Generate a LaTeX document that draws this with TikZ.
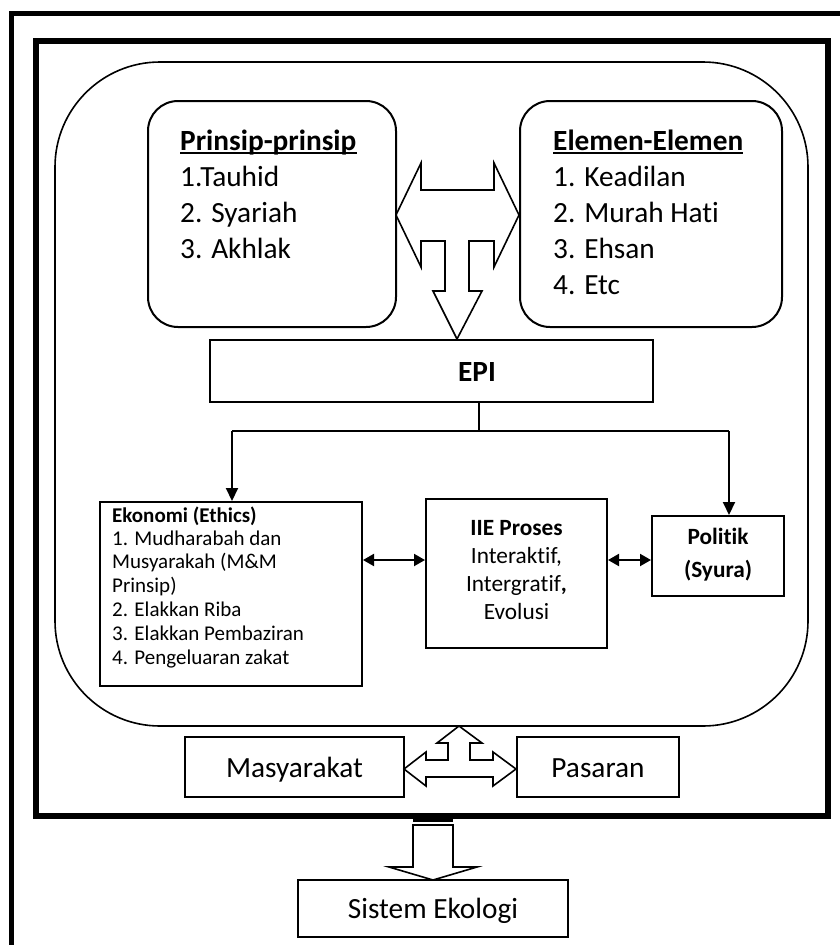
\documentclass[tikz,border=0pt]{standalone}
\usepackage{fontspec}
\setmainfont{Carlito}[Ligatures={NoCommon,NoContextual}]
\usetikzlibrary{arrows.meta}
\newcommand{\nl}{\kern0pt }
\begin{document}
\begin{tikzpicture}[x=1pt,y=-1pt,
  box/.style={draw,line width=2pt,inner sep=0pt},
  rbox/.style={box,rounded corners=30pt},
  big/.style={font=\fontsize{29.3}{36}\selectfont},
  mid/.style={font=\fontsize{23.3}{28}\selectfont},
  small/.style={font=\fontsize{21}{25}\selectfont},
  txt/.style={inner sep=0pt,anchor=base west},
  ctxt/.style={inner sep=0pt,anchor=base},
  fat/.style={draw,line width=1.6pt,fill=white,line join=miter},
  conn/.style={line width=2pt},
  tipd/.style={-{Triangle[length=13pt,width=12pt]}},
  dtip/.style={{Triangle[length=11pt,width=12pt]}-{Triangle[length=11pt,width=12pt]}}
]
\useasboundingbox (0,0) rectangle (840,945);
\fill[white] (0,0) rectangle (840,945);
\begin{scope}
  \clip (0,0) rectangle (840,945);
  \draw[line width=5.5pt] (11.5,13.5) rectangle (880,990);
\end{scope}
% inner thick frame
\draw[line width=6pt] (36,40.5) rectangle (827.5,815.5);
% big rounded region
\draw[line width=1.6pt, rounded corners=105pt] (55,62) rectangle (808,726);

% principle boxes
\node[rbox, minimum width=248pt, minimum height=226pt] (prinsip) at (272,214) {};
\node[rbox, minimum width=262pt, minimum height=226pt] (elemen) at (651,214) {};
\node[txt,big] (ptitle) at (180,150) {\textbf{Prinsip-prinsip}};
\draw[line width=1.8pt] ([yshift=-3pt]ptitle.base west) -- ([yshift=-3pt]ptitle.base east);
\node[txt,big] (p1) at (180,186) {1.Tauhid};
\node[txt,big] (p2) at (180,222) {2. Syariah};
\node[txt,big] (p3) at (180,258) {3. Akhlak};
\node[txt,big] (etitle) at (553,150) {\textbf{Elemen-Elemen}};
\draw[line width=1.8pt] ([yshift=-3pt]etitle.base west) -- ([yshift=-3pt]etitle.base east);
\node[txt,big] (e1) at (553,186) {1. Keadilan};
\node[txt,big] (e2) at (553,222) {2. Murah Hati};
\node[txt,big] (e3) at (553,258) {3. Ehsan};
\node[txt,big] (e4) at (553,294) {4. Etc};

% three-way block arrow (top)
\draw[fat] (396,215) -- (421,163) -- (421,190) -- (494,190) -- (494,163) -- (519,215)
  -- (494,267) -- (494,241) -- (469,241) -- (469,291) -- (482,291) -- (457,339)
  -- (433,291) -- (445,291) -- (445,241) -- (421,241) -- (421,267) -- cycle;

% EPI
\node[box, minimum width=443pt, minimum height=62pt] (epi) at (431.5,371) {};
\node[ctxt,big] (epit) at (477,381) {\textbf{EPI}};

% branching connectors
\coordinate (j) at (479,431);
\coordinate (jl) at (232,431);
\coordinate (jr) at (729,431);
\draw[conn] (epi.south -| j) -- (j);
\draw[conn] (jl) -- (jr);

% lower boxes
\node[box, minimum width=262pt, minimum height=184pt] (ekonomi) at (231,594) {};
\node[txt,small] (k0) at (112,522) {\textbf{Ekonomi (Ethics)}};
\node[txt,small] (k1) at (112,545) {1. Mudharabah dan};
\node[txt,small] (k2) at (112,568.5) {Musyarakah (M\&M};
\node[txt,small] (k3) at (112,592) {Prinsip)};
\node[txt,small] (k4) at (112,616) {2. Elakkan Riba};
\node[txt,small] (k5) at (112,640) {3. Elakkan Pembaziran};
\node[txt,small] (k6) at (112,664) {4. Pengeluaran zakat};

\node[box, minimum width=181pt, minimum height=149pt] (iie) at (516.5,573.5) {};
\node[ctxt,mid] (i0) at (516.5,535) {\textbf{IIE Proses}};
\node[ctxt,mid] (i1) at (516.5,563) {Interak\nl tif,};
\node[ctxt,mid] (i2) at (516.5,591) {Intergra\nl tif\textbf{,}};
\node[ctxt,mid] (i3) at (516.5,619) {Evolusi};

\node[box, minimum width=132pt, minimum height=80pt] (politik) at (718,556) {};
\node[ctxt,mid] (o0) at (718,544) {\textbf{Poli\nl tik}};
\node[ctxt,mid] (o1) at (718,577) {\textbf{(Syura)}};

\draw[conn,tipd] (jl) -- (jl |- ekonomi.north);
\draw[conn,tipd] (jr) -- (jr |- politik.north);

\coordinate (ay) at (0,560);
\draw[conn,dtip] (ekonomi.east |- ay) -- (iie.west |- ay);
\draw[conn,dtip] (iie.east |- ay) -- (politik.west |- ay);

% bottom boxes
\node[box, minimum width=219pt, minimum height=60pt] (masy) at (294.5,767) {};
\node[ctxt,big] (mt) at (294.5,777) {Masyarakat};
\node[box, minimum width=162pt, minimum height=60pt] (pasar) at (598,767) {};
\node[ctxt,big] (pt) at (598,777) {Pasaran};

% bottom three-way block arrow
\draw[fat] (404,769) -- (426,752) -- (426,760) -- (448,760) -- (448,743) -- (437,743)
  -- (459,726) -- (482,743) -- (470,743) -- (470,760) -- (493,760) -- (493,752)
  -- (516,769) -- (493,786) -- (493,777) -- (426,777) -- (426,786) -- cycle;

% arrow to ecology
\fill (413,813) rectangle (453,822);
\draw[fat] (413,825) -- (453,825) -- (453,867) -- (477,867) -- (433,880)
  -- (389,867) -- (413,867) -- cycle;
\node[box, minimum width=270pt, minimum height=57pt] (sistem) at (433,908.5) {};
\node[ctxt,big] (st) at (433,918) {Sistem Ekologi};
\end{tikzpicture}
\end{document}
